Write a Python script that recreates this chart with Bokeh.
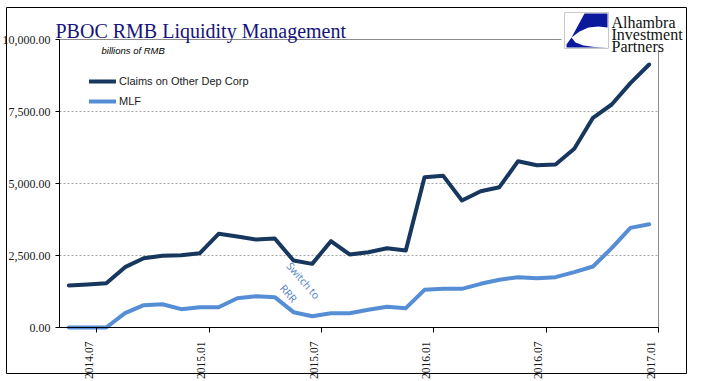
import math
from bokeh.plotting import figure
from bokeh.models import (ColumnDataSource, FixedTicker, Label, Legend, LegendItem,
                          BoxAnnotation, PolyAnnotation, LinearAxis,
                          CustomJSTickFormatter)
from bokeh.embed import file_html
from bokeh.resources import INLINE

# ---------------- data ----------------
months = ["2014.06", "2014.07", "2014.08", "2014.09", "2014.10", "2014.11", "2014.12",
          "2015.01", "2015.02", "2015.03", "2015.04", "2015.05", "2015.06", "2015.07",
          "2015.08", "2015.09", "2015.10", "2015.11", "2015.12",
          "2016.01", "2016.02", "2016.03", "2016.04", "2016.05", "2016.06", "2016.07",
          "2016.08", "2016.09", "2016.10", "2016.11", "2016.12", "2017.01"]
claims = [1458, 1493, 1539, 2095, 2407, 2495, 2505, 2581, 3252, 3160, 3055, 3090,
          2326, 2210, 2997, 2535, 2615, 2750, 2673, 5219, 5266, 4410, 4733, 4872,
          5775, 5636, 5660, 6204, 7281, 7743, 8483, 9132]
mlf = [0, 0, 0, 497, 775, 809, 636, 705, 705, 1018, 1088, 1053,
       532, 393, 497, 497, 614, 720, 671, 1308, 1343, 1343, 1517, 1656,
       1748, 1713, 1748, 1921, 2118, 2755, 3460, 3588]
x_tick_labels = ["2014.07", "2015.01", "2015.07", "2016.01", "2016.07", "2017.01"]
y_ticks = [0, 2500, 5000, 7500, 10000]
y_tick_labels = ["0.00", "2,500.00", "5,000.00", "7,500.00", "10,000.00"]
series_names = ["Claims on Other Dep Corp", "MLF"]
title_text = "PBOC RMB Liquidity Management"
unit_text = "billions of RMB"
note_text = "Switch to\nRRR"
logo_lines = ["Alhambra", "Investment", "Partners"]

DARK = "#17375e"
LIGHT = "#558ed5"

# ---------------- layout ----------------
# The plotting frame covers the whole canvas; the data box is placed at
# pixels x 59..658, y 39..327 by extending the ranges, and the axes are
# pinned to the data box with fixed_location.
W, H = 705, 381
FL, FR, FT, FB = 59, 658, 39, 327
N = len(months)
X0, X1 = -0.5, N - 0.5
Y0, Y1 = 0, 10000
sx = (X1 - X0) / (FR - FL)      # data per pixel
sy = (Y1 - Y0) / (FB - FT)

p = figure(width=W, height=H, output_backend="svg", toolbar_location=None,
           x_range=(X0 - FL * sx, X1 + (W - FR) * sx),
           y_range=(Y0 - (H - FB) * sy, Y1 + FT * sy),
           x_axis_location=None, y_axis_location=None,
           min_border=0, min_border_left=0, min_border_right=0,
           min_border_top=0, min_border_bottom=0)
p.background_fill_color = "white"
p.border_fill_color = "white"
p.outline_line_color = None
p.grid.visible = False

# data box outline (top/right grey; left/bottom get covered by the black axes)
p.add_layout(BoxAnnotation(left=X0, right=X1, bottom=Y0, top=Y1, fill_alpha=0,
                           line_color="#8c8c8c", line_alpha=1, line_width=1,
                           level="underlay"))

# dashed gridlines at the inner y ticks
gsrc = ColumnDataSource(dict(y=y_ticks[1:-1], x0=[X0] * 3, x1=[X1] * 3))
p.segment(x0="x0", x1="x1", y0="y", y1="y", source=gsrc, line_color="#a6a6a6",
          line_dash="2 2", line_width=1, level="underlay")

src = ColumnDataSource(dict(x=list(range(N)), claims=claims, mlf=mlf))
r1 = p.line("x", "claims", source=src, line_color=DARK, line_width=4,
            line_join="round", line_cap="round")
r2 = p.line("x", "mlf", source=src, line_color=LIGHT, line_width=4,
            line_join="round", line_cap="round")

# x axis: tick marks (as minor ticks) at the month boundaries, labels drawn
# slightly left of them as Excel does
x_tick_pos = [months.index(l) + 0.5 for l in x_tick_labels]
shift = 8 * sx
xa = LinearAxis(fixed_location=Y0, bounds=(X0, X1),
                ticker=FixedTicker(ticks=[t - shift for t in x_tick_pos],
                                   minor_ticks=x_tick_pos),
                formatter=CustomJSTickFormatter(args=dict(labels=x_tick_labels),
                                                code="return labels[index]"),
                axis_line_color="#000000", major_tick_line_color=None,
                major_tick_out=0, major_tick_in=0,
                minor_tick_line_color="#000000", minor_tick_out=5, minor_tick_in=0,
                major_label_standoff=9, major_label_orientation=math.pi / 2,
                major_label_text_font="Liberation Serif",
                major_label_text_font_size="11.5px", major_label_text_color="#1a1a1a")
p.add_layout(xa, "below")

# y axis
ya = LinearAxis(fixed_location=X0, bounds=(Y0, Y1),
                ticker=FixedTicker(ticks=y_ticks),
                formatter=CustomJSTickFormatter(args=dict(labels=y_tick_labels),
                                                code="return labels[index]"),
                major_label_text_font="Liberation Serif",
                major_label_text_font_size="12px", major_label_text_color="#1a1a1a",
                major_label_standoff=5, major_tick_out=4, major_tick_in=0,
                minor_tick_out=0, minor_tick_in=0,
                axis_line_color="#000000", major_tick_line_color="#000000")
p.add_layout(ya, "left")

# legend
legend = Legend(items=[LegendItem(label=series_names[0], renderers=[r1]),
                       LegendItem(label=series_names[1], renderers=[r2])],
                location=(89, H - 108), orientation="vertical",
                glyph_width=27, glyph_height=14, label_height=14, label_standoff=3,
                spacing=6, padding=0, margin=0, border_line_color=None,
                background_fill_alpha=0, label_text_font="Liberation Sans",
                label_text_font_size="11px", label_text_color="#1a1a1a")
p.add_layout(legend)

C = dict(x_units="canvas", y_units="canvas")
BC = dict(left_units="canvas", right_units="canvas", top_units="canvas",
          bottom_units="canvas")

# outer border
p.add_layout(BoxAnnotation(left=6, right=686, top=7, bottom=373, fill_alpha=0,
                           line_color="#000000", line_alpha=1, line_width=1,
                           level="overlay", **BC))

# title and unit
p.add_layout(Label(x=55, y=30, text=title_text, text_font="Liberation Serif",
                   text_font_size="20px", text_color="#14147a",
                   text_baseline="alphabetic", text_align="left", **C))
p.add_layout(Label(x=101, y=50, text=unit_text, text_font="Liberation Sans",
                   text_font_style="italic", text_font_size="9.5px",
                   text_color="#000000", text_baseline="middle", text_align="left", **C))

# annotation
p.add_layout(Label(x=295.5, y=286.5, text=note_text, angle=-49, angle_units="deg",
                   text_font="Open Sans", text_font_size="10.5px",
                   text_color="#4f7fc4", text_align="center", text_baseline="middle",
                   text_line_height=1.4, **C))

# logo
p.add_layout(BoxAnnotation(left=561, right=684, top=9, bottom=50, fill_color="white",
                           fill_alpha=1, line_color=None, level="overlay", **BC))
p.add_layout(BoxAnnotation(left=564, right=608, top=12, bottom=48, fill_color="white",
                           fill_alpha=1, line_color="#c8c8c8", line_alpha=1,
                           line_width=1, level="overlay", **BC))
blue_a = [(584, 13), (607, 13), (607, 27), (598, 26), (588, 27), (579, 31), (571, 37)]
blue_b = [(571, 37), (575, 42), (583, 45), (594, 46.5), (607, 47), (566, 47), (566, 44)]
for poly in (blue_a, blue_b):
    p.add_layout(PolyAnnotation(xs=[a for a, b in poly], ys=[b for a, b in poly],
                                xs_units="canvas", ys_units="canvas",
                                fill_color="#0b1a9c", fill_alpha=1, line_color=None,
                                level="overlay"))
for i, t in enumerate(logo_lines):
    p.add_layout(Label(x=611, y=22 + 12 * i, text=t, text_font="Liberation Serif",
                       text_font_size="16px", text_color="#111111",
                       text_baseline="alphabetic", text_align="left", level="overlay",
                       **C))

open("out.html", "w").write(file_html(p, INLINE))
